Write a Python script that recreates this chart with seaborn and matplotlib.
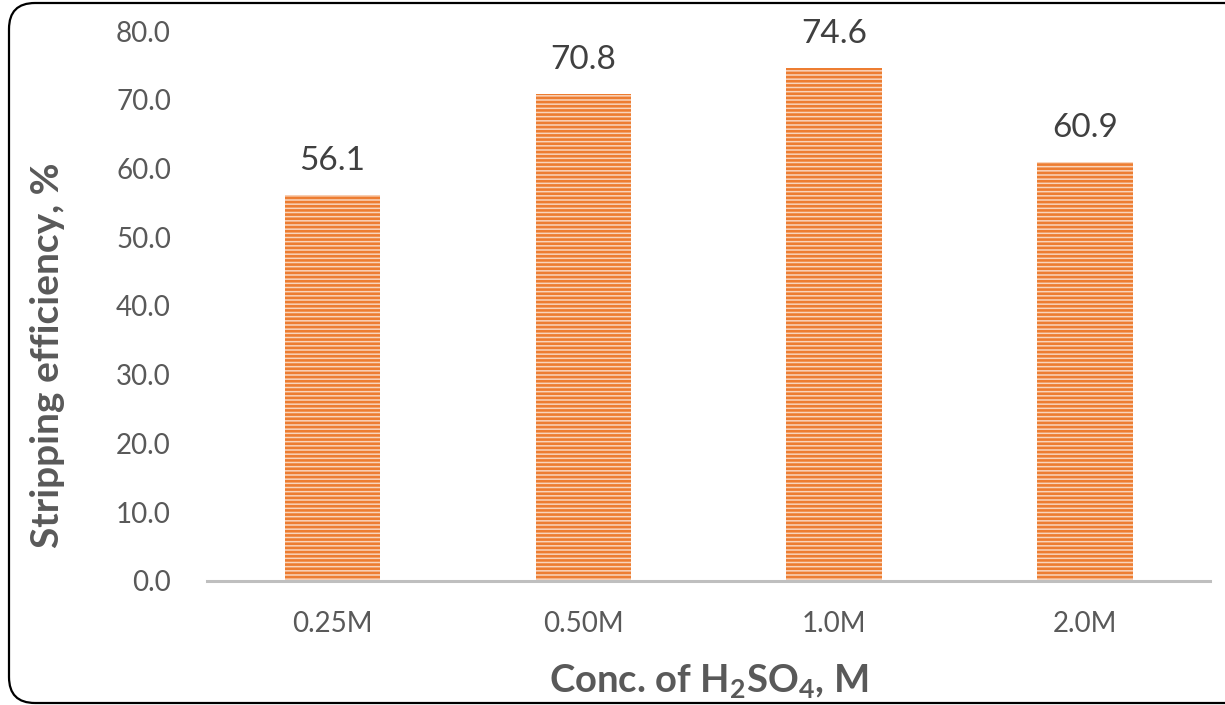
import matplotlib
matplotlib.use("Agg")
import matplotlib.pyplot as plt
import matplotlib.patches as mpatches
from matplotlib.ticker import FormatStrFormatter
import seaborn as sns
import pandas as pd

# Stripping efficiency for each sulfuric acid concentration
concentrations = ["0.25M", "0.50M", "1.0M", "2.0M"]
efficiency = [56.1, 70.8, 74.6, 60.9]
y_ticks = [0, 10, 20, 30, 40, 50, 60, 70, 80]

df = pd.DataFrame({"conc": concentrations, "eff": efficiency})

sns.set_theme(style="white")
plt.rcParams["font.family"] = ["Lato", "DejaVu Sans"]
plt.rcParams["mathtext.fontset"] = "custom"
plt.rcParams["mathtext.rm"] = "Lato"
plt.rcParams["mathtext.bf"] = "Lato:bold"
plt.rcParams["hatch.linewidth"] = 1.9

ORANGE = "#ED7D31"
TICK_GREY = "#595959"

W, H = 1225, 705
fig = plt.figure(figsize=(W / 100, H / 100), dpi=100)
ax = fig.add_axes([0.169, 0.176, 0.819, 0.780])

sns.barplot(data=df, x="conc", y="eff", ax=ax, color="#F9D5BC",
            width=0.38, saturation=1, edgecolor=ORANGE, linewidth=0,
            hatch="----")

ax.set_ylim(0, 80)
ax.set_xlim(-0.5, 3.5)
ax.set_yticks(y_ticks)
ax.yaxis.set_major_formatter(FormatStrFormatter("%.1f"))
ax.tick_params(axis="both", length=0, labelsize=20, labelcolor=TICK_GREY)
ax.tick_params(axis="x", pad=22)
ax.tick_params(axis="y", pad=26)

for side in ["top", "right", "left"]:
    ax.spines[side].set_visible(False)
ax.spines["bottom"].set_color("#BFBFBF")
ax.spines["bottom"].set_linewidth(2.2)

ax.bar_label(ax.containers[0], fmt="%.1f", padding=14, fontsize=24,
             color="#404040")

ax.set_ylabel("Stripping efficiency, %", fontsize=28, fontweight="bold",
              color=TICK_GREY)
ax.yaxis.set_label_coords(-0.142, 0.41)
ax.set_xlabel(r"Conc. of H$_\mathbf{2}$SO$_\mathbf{4}$, M", fontsize=27.5,
              fontweight="bold", color=TICK_GREY, va="center")
ax.xaxis.set_label_coords(0.5, -0.183)

# rounded chart frame, its right side just past the figure edge
radius = 26
frame = mpatches.FancyBboxPatch((9 / W, 2 / H), 1244 / W, 700 / H,
                                boxstyle=f"round,pad=0,rounding_size={radius / W}",
                                mutation_aspect=W / H,
                                transform=fig.transFigure, fill=False,
                                edgecolor="black", linewidth=1.6)
fig.patches.append(frame)

fig.savefig("out.png", dpi=100)
